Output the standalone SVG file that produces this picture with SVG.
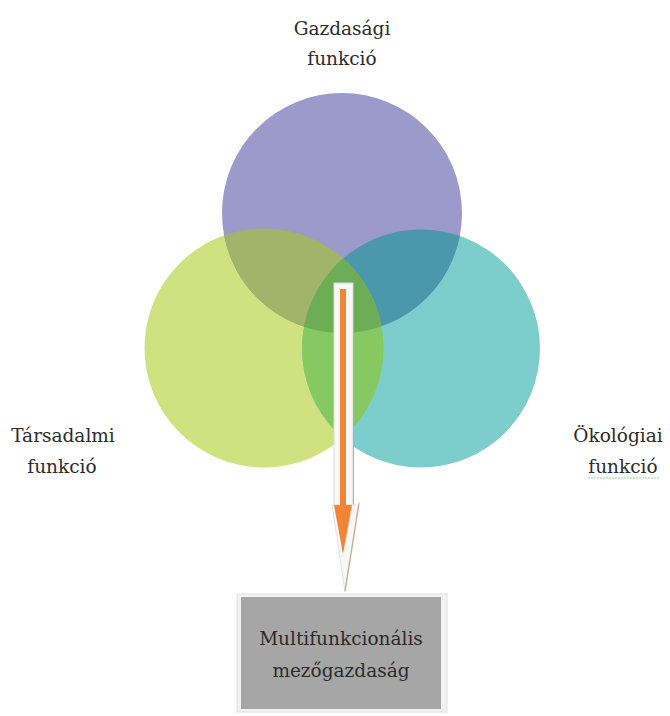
<svg xmlns="http://www.w3.org/2000/svg" width="670" height="716" viewBox="0 0 670 716">
<style>
.lbl{font-family:"DejaVu Serif","Liberation Serif",serif;font-size:18.5px;fill:#2b2b2b;text-anchor:middle}
</style>
<defs>
<clipPath id="cpP"><circle cx="342" cy="213" r="120"/></clipPath>
<clipPath id="cpG"><circle cx="264" cy="348" r="119.5"/></clipPath>
<clipPath id="cpT"><circle cx="421" cy="348.5" r="119"/></clipPath>
</defs>
<rect width="670" height="716" fill="#ffffff"/>
<g id="node-tarsadalmi">
<circle cx="264" cy="348" r="119.5" fill="#cfe27f"/>
<text class="lbl" x="63" y="442">Társadalmi</text>
<text class="lbl" x="62" y="473">funkció</text>
</g>
<g id="node-okologiai">
<circle cx="421" cy="348.5" r="119" fill="#7ccdcc"/>
<text class="lbl" x="618" y="442">Ökológiai</text>
<text class="lbl" x="623" y="473">funkció</text>
<line x1="588" y1="478" x2="659" y2="478" stroke="#8fd18f" stroke-width="1.2" stroke-dasharray="2 1"/>
</g>
<g id="node-gazdasagi">
<circle cx="342" cy="213" r="120" fill="#9c99cb"/>
<text class="lbl" x="342" y="35">Gazdasági</text>
<text class="lbl" x="342" y="65">funkció</text>
</g>
<g id="overlaps">
<circle cx="264" cy="348" r="119.5" fill="#a2b36a" clip-path="url(#cpP)"/>
<circle cx="421" cy="348.5" r="119" fill="#4b98ad" clip-path="url(#cpP)"/>
<circle cx="421" cy="348.5" r="119" fill="#86c862" clip-path="url(#cpG)"/>
<g clip-path="url(#cpP)"><circle cx="421" cy="348.5" r="119" fill="#6cad56" clip-path="url(#cpG)"/></g>
</g>
<g id="connectors">
<rect x="334" y="283" width="19" height="222" fill="#f7f7f7" stroke="#dcdcdc" stroke-width="1"/>
<line x1="353.5" y1="285" x2="353.5" y2="505" stroke="#c9a58e" stroke-width="1"/>
<polygon points="332,505 359,505 345,592" fill="#f7f7f7" stroke="#e2e2e2" stroke-width="1"/>
<rect x="340" y="289" width="6" height="218" fill="#ef8535"/>
<polygon points="334,505 352,505 343,554" fill="#ef8535"/>
<line x1="359" y1="503" x2="345" y2="591" stroke="#c9a58e" stroke-width="1.2"/>
</g>
<g id="node-multi">
<rect x="237" y="594" width="210" height="118" fill="#f2f2f2" stroke="#e0e0e0" stroke-width="1"/>
<rect x="241" y="597" width="200" height="112" fill="#a6a6a6"/>
<text class="lbl" x="341" y="645">Multifunkcionális</text>
<text class="lbl" x="341" y="677">mezőgazdaság</text>
</g>
</svg>
